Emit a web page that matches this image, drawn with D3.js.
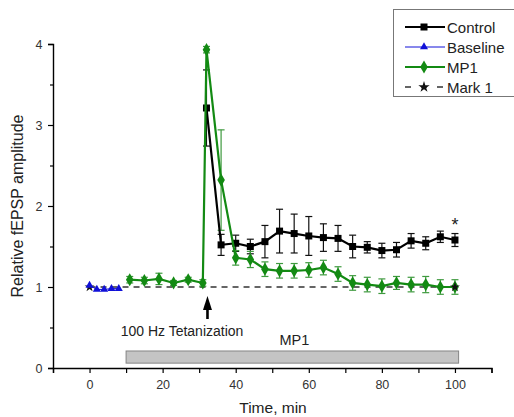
<!DOCTYPE html>
<html>
<head>
<meta charset="utf-8">
<script src="https://cdn.jsdelivr.net/npm/d3@7"></script>
<style>
  html, body { margin: 0; padding: 0; background: #fff; }
  svg { display: block; font-family: "Liberation Sans", Arial, sans-serif; }
</style>
</head>
<body>
<svg id="chart" width="514" height="417"></svg>
<script>
// Baseline recording (before drug)
const baselineTime = [0, 2, 4, 6, 8];
const baselineVal  = [1.02, 0.97, 0.97, 0.98, 0.98];

// Control group after tetanization
const controlTime = [32, 36, 40, 44, 48, 52, 56, 60, 64, 68, 72, 76, 80, 84, 88, 92, 96, 100];
const controlVal  = [3.21, 1.52, 1.54, 1.50, 1.56, 1.69, 1.66, 1.63, 1.61, 1.60, 1.50, 1.49, 1.45, 1.46, 1.57, 1.54, 1.62, 1.58];
const controlErr  = [0.47, 0.13, 0.10, 0.09, 0.20, 0.27, 0.24, 0.24, 0.17, 0.16, 0.14, 0.07, 0.09, 0.09, 0.09, 0.08, 0.07, 0.08];

// MP1 group (drug applied from 10 min)
const mp1Time = [11, 15, 19, 23, 27, 31, 32, 36, 40, 44, 48, 52, 56, 60, 64, 68, 72, 76, 80, 84, 88, 92, 96, 100];
const mp1Val  = [1.09, 1.08, 1.10, 1.05, 1.09, 1.05, 3.93, 2.32, 1.36, 1.34, 1.22, 1.20, 1.20, 1.21, 1.24, 1.16, 1.05, 1.03, 1.01, 1.05, 1.03, 1.03, 1.00, 1.00];
const mp1Err  = [0.04, 0.04, 0.07, 0.03, 0.03, 0.04, 0.04, 0.62, 0.09, 0.10, 0.09, 0.09, 0.09, 0.09, 0.09, 0.09, 0.09, 0.09, 0.09, 0.08, 0.09, 0.10, 0.09, 0.09];

// Reference level (Mark 1)
const markTime = [0, 100];
const markVal  = [1, 1];

// Drug application period and stimulation time
const drugPeriod = [10, 101];
const drugBand = [0.06, 0.21];
const tetanusTime = 32;

const xTicks = [-10, 0, 10, 20, 30, 40, 50, 60, 70, 80, 90, 100, 110];
const xTickLabels = [0, 20, 40, 60, 80, 100];
const yTicks = [0, 0.5, 1, 1.5, 2, 2.5, 3, 3.5, 4];
const yTickLabels = [0, 1, 2, 3, 4];

const legendNames = ["Control", "Baseline", "MP1", "Mark 1"];

const colors = { control: "#000000", baseline: "#1010d8", mp1: "#138a13", mp1Err: "#3f9a3f", mark: "#333333" };

const svg = d3.select("#chart");
const x = d3.scaleLinear().domain([-10, 110]).range([53, 491.5]);
const y = d3.scaleLinear().domain([0, 4]).range([368, 44]);

// Axes
const xAxis = d3.axisBottom(x).tickValues(xTicks).tickSize(5)
  .tickFormat(d => xTickLabels.includes(d) ? d : "");
const gx = svg.append("g").attr("transform", `translate(0,${y(0)})`).call(xAxis);
const yAxis = d3.axisLeft(y).tickValues(yTicks).tickSize(5)
  .tickFormat(d => yTickLabels.includes(d) ? d : "");
const gy = svg.append("g").attr("transform", `translate(${x(-10)},0)`).call(yAxis);
[gx, gy].forEach(g => {
  g.select(".domain").attr("stroke", "#000").attr("stroke-width", 1.4);
  g.selectAll(".tick line").attr("stroke", "#000").attr("stroke-width", 1.2);
  g.selectAll(".tick text").attr("font-size", 12.5).attr("fill", "#333")
    .attr("font-family", "'Liberation Sans', Arial, sans-serif");
});
gy.selectAll(".tick").filter(d => !yTickLabels.includes(d)).select("line").attr("x2", -3);
gx.selectAll(".tick text").attr("dy", "1.0em");
gy.selectAll(".tick text").attr("dx", "-0.2em");

// Axis titles
svg.append("text").attr("x", 273).attr("y", 413).attr("text-anchor", "middle")
  .attr("font-size", 15.5).attr("fill", "#222").text("Time, min");
svg.append("text").attr("transform", `translate(23,${206}) rotate(-90)`).attr("text-anchor", "middle")
  .attr("font-size", 16).attr("fill", "#222").text("Relative fEPSP amplitude");

// Drug application bar
svg.append("rect")
  .attr("x", x(drugPeriod[0])).attr("y", y(drugBand[1]))
  .attr("width", x(drugPeriod[1]) - x(drugPeriod[0]))
  .attr("height", y(drugBand[0]) - y(drugBand[1]))
  .attr("fill", "#c4c4c4").attr("stroke", "#858585").attr("stroke-width", 1);
svg.append("text").attr("x", x((drugPeriod[0] + drugPeriod[1]) / 2) + 2).attr("y", y(drugBand[1]) - 6)
  .attr("text-anchor", "middle").attr("font-size", 14.5).attr("fill", "#222").text("MP1");

// Tetanization arrow and label
const ax = x(tetanusTime) + 1;
svg.append("line").attr("x1", ax).attr("x2", ax).attr("y1", 319).attr("y2", 306)
  .attr("stroke", "#000").attr("stroke-width", 2.6);
svg.append("path").attr("d", `M${ax},296 L${ax - 4.5},310 L${ax + 4.5},310 Z`).attr("fill", "#000");
svg.append("text").attr("x", 182).attr("y", 336).attr("text-anchor", "middle")
  .attr("font-size", 14).attr("fill", "#222").text("100 Hz Tetanization");

// Mark 1 dashed reference line
const line = d3.line().x(d => x(d[0])).y(d => y(d[1]));
const markPts = markTime.map((t, i) => [t, markVal[i]]);
svg.append("path").attr("d", line(markPts)).attr("fill", "none")
  .attr("stroke", colors.mark).attr("stroke-width", 1.3).attr("stroke-dasharray", "6,5");

const star = d3.symbol().type(d3.symbolStar);

// Error bars
function errorBars(times, vals, errs, color) {
  const g = svg.append("g").attr("stroke", color).attr("stroke-width", 1.2).attr("fill", "none");
  times.forEach((t, i) => {
    const cx = x(t), top = y(vals[i] + errs[i]), bot = y(vals[i] - errs[i]);
    g.append("line").attr("x1", cx).attr("x2", cx).attr("y1", top).attr("y2", bot);
    g.append("line").attr("x1", cx - 3.5).attr("x2", cx + 3.5).attr("y1", top).attr("y2", top);
    g.append("line").attr("x1", cx - 3.5).attr("x2", cx + 3.5).attr("y1", bot).attr("y2", bot);
  });
}

errorBars(controlTime, controlVal, controlErr, "#111");
errorBars(mp1Time, mp1Val, mp1Err, colors.mp1Err);

// Control series
const controlPts = controlTime.map((t, i) => [t, controlVal[i]]);
svg.append("path").attr("d", line(controlPts)).attr("fill", "none")
  .attr("stroke", colors.control).attr("stroke-width", 2.2);
svg.selectAll(".ctl").data(controlPts).enter().append("rect")
  .attr("x", d => x(d[0]) - 3.5).attr("y", d => y(d[1]) - 3.5)
  .attr("width", 7).attr("height", 7).attr("fill", colors.control);

// MP1 series
const mp1Pts = mp1Time.map((t, i) => [t, mp1Val[i]]);
svg.append("path").attr("d", line(mp1Pts)).attr("fill", "none")
  .attr("stroke", colors.mp1).attr("stroke-width", 2.2);
const diamond = d3.symbol().type(d3.symbolDiamond).size(50);
svg.selectAll(".mp1").data(mp1Pts).enter().append("path")
  .attr("d", diamond).attr("transform", d => `translate(${x(d[0])},${y(d[1])})`)
  .attr("fill", colors.mp1);

// Mark 1 end markers
svg.selectAll(".mk").data(markPts).enter().append("path")
  .attr("d", star.size(30)).attr("transform", d => `translate(${x(d[0])},${y(d[1])})`)
  .attr("fill", "#111");

// Baseline series
const basePts = baselineTime.map((t, i) => [t, baselineVal[i]]);
svg.append("path").attr("d", line(basePts)).attr("fill", "none")
  .attr("stroke", colors.baseline).attr("stroke-width", 1);
const tri = d3.symbol().type(d3.symbolTriangle).size(28);
svg.selectAll(".bl").data(basePts).enter().append("path")
  .attr("d", tri).attr("transform", d => `translate(${x(d[0])},${y(d[1])})`)
  .attr("fill", colors.baseline);

// Significance mark at the last time point
svg.append("text").attr("x", x(100)).attr("y", y(controlVal[controlVal.length - 1] + controlErr[controlErr.length - 1]) - 3)
  .attr("text-anchor", "middle").attr("font-size", 18).attr("fill", "#222").text("*");

// Legend
const lg = svg.append("g");
lg.append("rect").attr("x", 393.5).attr("y", 9.5).attr("width", 130).attr("height", 87)
  .attr("fill", "#fff").attr("stroke", "#777").attr("stroke-width", 1);
const lx0 = 405, lx1 = 445, lmid = 424;
legendNames.forEach((name, i) => {
  const ly = 27 + i * 20;
  const item = lg.append("g");
  if (name === "Control") {
    item.append("line").attr("x1", lx0).attr("x2", lx1).attr("y1", ly).attr("y2", ly)
      .attr("stroke", colors.control).attr("stroke-width", 2.2);
    item.append("rect").attr("x", lmid - 3.5).attr("y", ly - 3.5).attr("width", 7).attr("height", 7).attr("fill", colors.control);
  } else if (name === "Baseline") {
    item.append("line").attr("x1", lx0).attr("x2", lx1).attr("y1", ly).attr("y2", ly)
      .attr("stroke", colors.baseline).attr("stroke-width", 1);
    item.append("path").attr("d", tri).attr("transform", `translate(${lmid},${ly})`).attr("fill", colors.baseline);
  } else if (name === "MP1") {
    item.append("line").attr("x1", lx0).attr("x2", lx1).attr("y1", ly).attr("y2", ly)
      .attr("stroke", colors.mp1).attr("stroke-width", 2.2);
    item.append("path").attr("d", diamond).attr("transform", `translate(${lmid},${ly})`).attr("fill", colors.mp1);
  } else {
    item.append("line").attr("x1", lx0).attr("x2", lx1).attr("y1", ly).attr("y2", ly)
      .attr("stroke", colors.mark).attr("stroke-width", 1.3).attr("stroke-dasharray", "6,10");
    item.append("path").attr("d", star.size(40)).attr("transform", `translate(${lmid},${ly})`).attr("fill", "#111");
  }
  item.append("text").attr("x", lx1 + 2).attr("y", ly + 5.5).attr("font-size", 15).attr("fill", "#222").text(name);
});
</script>
</body>
</html>
